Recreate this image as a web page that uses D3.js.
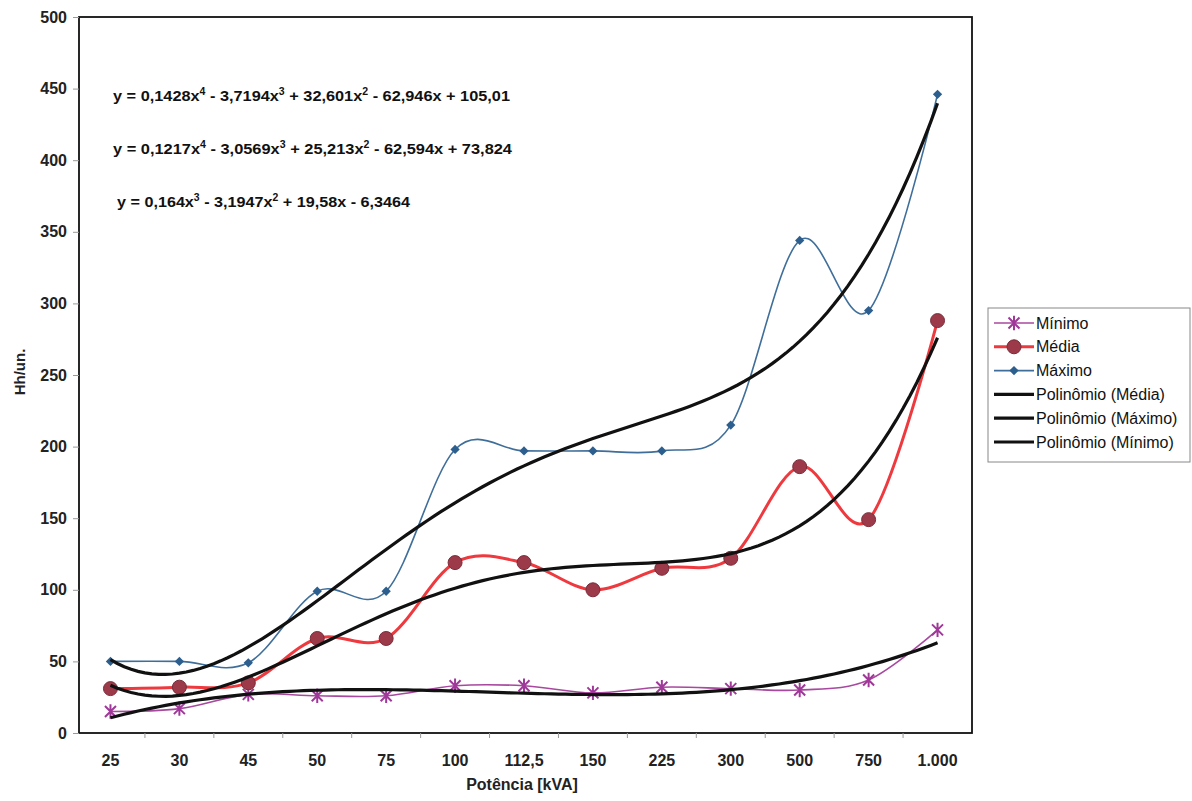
<!DOCTYPE html>
<html>
<head>
<meta charset="utf-8">
<script src="https://cdn.jsdelivr.net/npm/d3@7"></script>
<style>
  body { margin: 0; background: #fff; }
  svg { font-family: "Liberation Sans", Arial, sans-serif; }
</style>
</head>
<body>
<div id="chart"></div>
<script>
const categories = ["25", "30", "45", "50", "75", "100", "112,5", "150", "225", "300", "500", "750", "1.000"];
const minimo = [15, 17, 27, 26, 26, 33, 33, 28, 32, 31, 30, 37, 72];
const media = [31, 32, 35, 66, 66, 119, 119, 100, 115, 122, 186, 149, 288];
const maximo = [50, 50, 49, 99, 99, 198, 197, 197, 197, 215, 344, 295, 446];
const yTicks = [0, 50, 100, 150, 200, 250, 300, 350, 400, 450, 500];

const width = 1192, height = 801;
const plot = { left: 79, right: 972, top: 17, bottom: 733 };

const svg = d3.select("#chart").append("svg")
  .attr("width", width).attr("height", height);

const x = d3.scaleBand().domain(categories).range([76, 972]).padding(0);
const y = d3.scaleLinear().domain([0, 500]).range([plot.bottom, plot.top]);
const cx = (d, i) => x(categories[i]) + x.bandwidth() / 2;
const xi = d3.scaleLinear().domain([1, categories.length])
  .range([x(categories[0]) + x.bandwidth() / 2, x(categories[categories.length - 1]) + x.bandwidth() / 2]);

// least squares polynomial fit, like excel trendline
function polyfit(ys, deg) {
  const n = deg + 1;
  const A = d3.range(n).map(() => new Array(n + 1).fill(0));
  ys.forEach((v, k) => {
    const t = k + 1;
    for (let i = 0; i < n; i++) {
      for (let j = 0; j < n; j++) A[i][j] += Math.pow(t, i + j);
      A[i][n] += v * Math.pow(t, i);
    }
  });
  for (let i = 0; i < n; i++) {
    let p = i;
    for (let r = i + 1; r < n; r++) if (Math.abs(A[r][i]) > Math.abs(A[p][i])) p = r;
    [A[i], A[p]] = [A[p], A[i]];
    for (let r = 0; r < n; r++) {
      if (r === i) continue;
      const f = A[r][i] / A[i][i];
      for (let c = i; c <= n; c++) A[r][c] -= f * A[i][c];
    }
  }
  return d3.range(n).map(i => A[i][n] / A[i][i]);
}
const evalPoly = (c, t) => c.reduce((s, a, i) => s + a * Math.pow(t, i), 0);

// frame
svg.append("rect")
  .attr("x", plot.left).attr("y", plot.top)
  .attr("width", plot.right - plot.left).attr("height", plot.bottom - plot.top)
  .attr("fill", "none").attr("stroke", "#111").attr("stroke-width", 1.8);

// y axis
const yAxis = svg.append("g").attr("transform", `translate(${plot.left},0)`)
  .call(d3.axisLeft(y).tickValues(yTicks).tickSize(6).tickPadding(6));
yAxis.select(".domain").remove();
yAxis.selectAll("line").attr("stroke", "#999");
yAxis.selectAll("text").attr("font-size", 16).attr("font-weight", "bold")
  .attr("fill", "#222").attr("font-family", "Liberation Sans, Arial, sans-serif");

// x axis
const xAxis = svg.append("g").attr("transform", `translate(0,${plot.bottom})`)
  .call(d3.axisBottom(x).tickSize(0).tickPadding(22));
xAxis.select(".domain").remove();
xAxis.selectAll("text").attr("font-size", 16).attr("font-weight", "bold")
  .attr("fill", "#222").attr("font-family", "Liberation Sans, Arial, sans-serif");
svg.append("g").selectAll("line")
  .data(categories.slice(1))
  .join("line")
  .attr("x1", d => x(d)).attr("x2", d => x(d))
  .attr("y1", plot.bottom).attr("y2", plot.bottom + 5)
  .attr("stroke", "#999");

// axis titles
svg.append("text").attr("x", 522).attr("y", 790).attr("text-anchor", "middle")
  .attr("font-size", 16).attr("font-weight", "bold").attr("fill", "#222")
  .text("Potência [kVA]");
svg.append("text").attr("transform", "translate(25,372) rotate(-90)")
  .attr("text-anchor", "middle").attr("font-size", 15).attr("font-weight", "bold")
  .attr("fill", "#222").text("Hh/un.");

// marker shapes
const starPath = s => `M${-s},${-s}L${s},${s}M${-s},${s}L${s},${-s}M0,${-s * 1.3}L0,${s * 1.3}`;
const series = [
  { name: "Mínimo", values: minimo, color: "#a8489f", width: 1.6, marker: "star", deg: 3 },
  { name: "Média", values: media, color: "#ee3a3f", width: 3, marker: "circle", deg: 4 },
  { name: "Máximo", values: maximo, color: "#3f6e9a", width: 1.6, marker: "diamond", deg: 4 }
];

function drawMarker(g, type) {
  if (type === "star") {
    g.append("path").attr("d", starPath(5.5)).attr("stroke", "#a0389a")
      .attr("stroke-width", 2).attr("fill", "none");
  } else if (type === "circle") {
    g.append("circle").attr("r", 7).attr("fill", "#9c3a4a")
      .attr("stroke", "#7a2c3a").attr("stroke-width", 1);
  } else {
    g.append("path").attr("d", d3.symbol(d3.symbolDiamond2, 55)()).attr("fill", "#2d5f8e");
  }
}

const line = d3.line().x((d, i) => cx(d, i)).y(d => y(d)).curve(d3.curveCardinal.tension(0));

series.forEach(s => {
  svg.append("path").datum(s.values).attr("d", line)
    .attr("fill", "none").attr("stroke", s.color).attr("stroke-width", s.width);
});

series.forEach(s => {
  svg.append("g").selectAll("g").data(s.values).join("g")
    .attr("transform", (d, i) => `translate(${cx(d, i)},${y(d)})`)
    .each(function () { drawMarker(d3.select(this), s.marker); });
});

// trendlines
const ts = d3.range(1, categories.length + 0.001, 0.1);
const trendLine = d3.line().x(d => xi(d[0])).y(d => y(d[1]));
series.forEach(s => {
  const c = polyfit(s.values, s.deg);
  svg.append("path").datum(ts.map(t => [t, evalPoly(c, t)])).attr("d", trendLine)
    .attr("fill", "none").attr("stroke", "#111").attr("stroke-width", 3.2);
});

// equations
const equations = [
  { y: 101, parts: ["y = 0,1428x", "4", " - 3,7194x", "3", " + 32,601x", "2", " - 62,946x + 105,01"], w: 397 },
  { y: 154, parts: ["y = 0,1217x", "4", " - 3,0569x", "3", " + 25,213x", "2", " - 62,594x + 73,824"], w: 399 },
  { y: 207, parts: ["y = 0,164x", "3", " - 3,1947x", "2", " + 19,58x - 6,3464"], w: 293 }
];
equations.forEach((e, k) => {
  const t = svg.append("text").attr("x", k === 2 ? 117 : 113).attr("y", e.y)
    .attr("font-size", 15.5).attr("font-weight", "bold").attr("fill", "#111")
    .attr("textLength", e.w).attr("lengthAdjust", "spacingAndGlyphs");
  e.parts.forEach((p, i) => {
    if (i % 2 === 1) t.append("tspan").attr("dy", -6).attr("font-size", 10).text(p);
    else t.append("tspan").attr("dy", i === 0 ? 0 : 6).text(p);
  });
});

// legend
const legend = svg.append("g").attr("transform", "translate(988,308)");
legend.append("rect").attr("width", 202).attr("height", 154)
  .attr("fill", "#fff").attr("stroke", "#888").attr("stroke-width", 1);
const legendItems = [
  ...series.map(s => ({ label: s.name, s })),
  { label: "Polinômio (Média)" },
  { label: "Polinômio (Máximo)" },
  { label: "Polinômio (Mínimo)" }
];
legendItems.forEach((it, i) => {
  const g = legend.append("g").attr("transform", `translate(0,${15 + i * 23.8})`);
  g.append("line").attr("x1", 6).attr("x2", 46)
    .attr("stroke", it.s ? it.s.color : "#111")
    .attr("stroke-width", it.s ? it.s.width : 3.2);
  if (it.s) drawMarker(g.append("g").attr("transform", "translate(26,0)"), it.s.marker);
  g.append("text").attr("x", 48).attr("y", 5.5).attr("font-size", 16)
    .attr("fill", "#111").text(it.label);
});
</script>
</body>
</html>
